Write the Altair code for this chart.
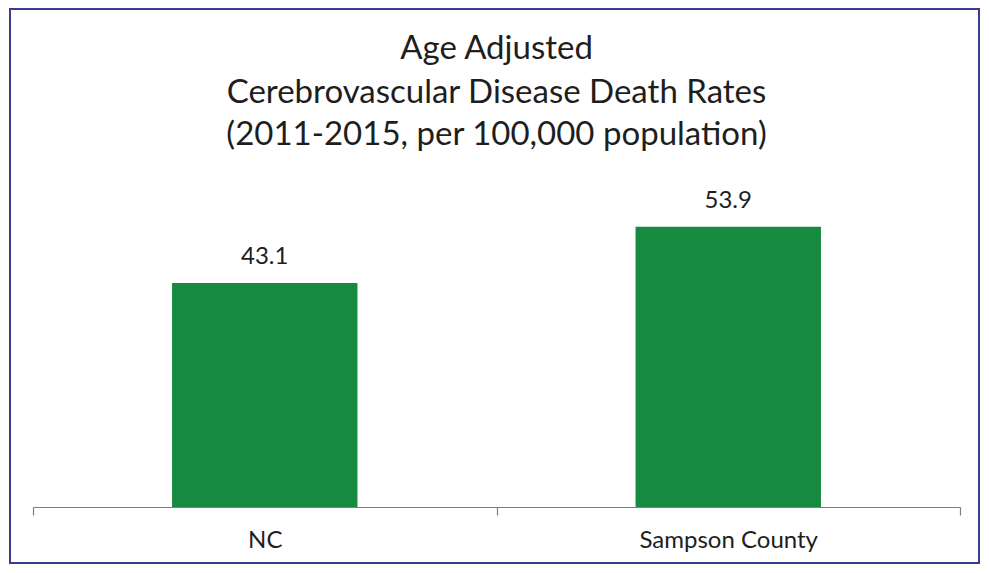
import altair as alt
import pandas as pd

categories = ["NC", "Sampson County"]
rates = [43.1, 53.9]
title_lines = ["Age Adjusted", "Cerebrovascular Disease Death Rates", "(2011-2015, per 100,000 population)"]

df = pd.DataFrame({"region": categories, "rate": rates})
border_df = pd.DataFrame({"k": [0]})

FONT = "Lato"
GREEN = "#178a42"
TEXT = "#1e1e1e"

x_enc = alt.X("region:N", sort=categories, title=None,
              scale=alt.Scale(paddingInner=0, paddingOuter=0),
              axis=alt.Axis(labelAngle=0, labelFontSize=24, labelFont=FONT, labelColor=TEXT,
                            domainColor="#7f7f7f", tickColor="#7f7f7f", tickSize=8,
                            tickBand="extent", labelPadding=13, domainWidth=1.2, tickWidth=1.2))
y_enc = alt.Y("rate:Q", scale=alt.Scale(domain=[0, 60]), axis=None)

bars = alt.Chart(df).mark_bar(color=GREEN, width=alt.RelativeBandSize(0.4)).encode(x=x_enc, y=y_enc)
labels = alt.Chart(df).mark_text(dy=-19, fontSize=24, font=FONT, color=TEXT, baseline="alphabetic").encode(
    x=alt.X("region:N", sort=categories), y="rate:Q", text=alt.Text("rate:Q", format=".1f"))
border = alt.Chart(border_df).mark_rect(fill=None, stroke="#3c3c8e", strokeWidth=2).encode(
    x=alt.value(-23), x2=alt.value(946), y=alt.value(-186), y2=alt.value(368))

title_baselines = [-136, -92, -50]
title_layers = []
for line, yb in zip(title_lines, title_baselines):
    tdf = pd.DataFrame({"t": [line]})
    title_layers.append(
        alt.Chart(tdf).mark_text(fontSize=33, font=FONT, color=TEXT, baseline="alphabetic", align="center")
        .encode(text="t:N", x=alt.value(463.5), y=alt.value(yb))
    )

chart = alt.layer(bars, labels, border, *title_layers).properties(
    width=927, height=312,
    autosize=alt.AutoSizeParams(type="none"),
    padding={"left": 25, "top": 187, "right": 21, "bottom": 58},
).configure_view(stroke=None)

chart.save("out.html", embed_options={"renderer": "svg", "actions": False})
